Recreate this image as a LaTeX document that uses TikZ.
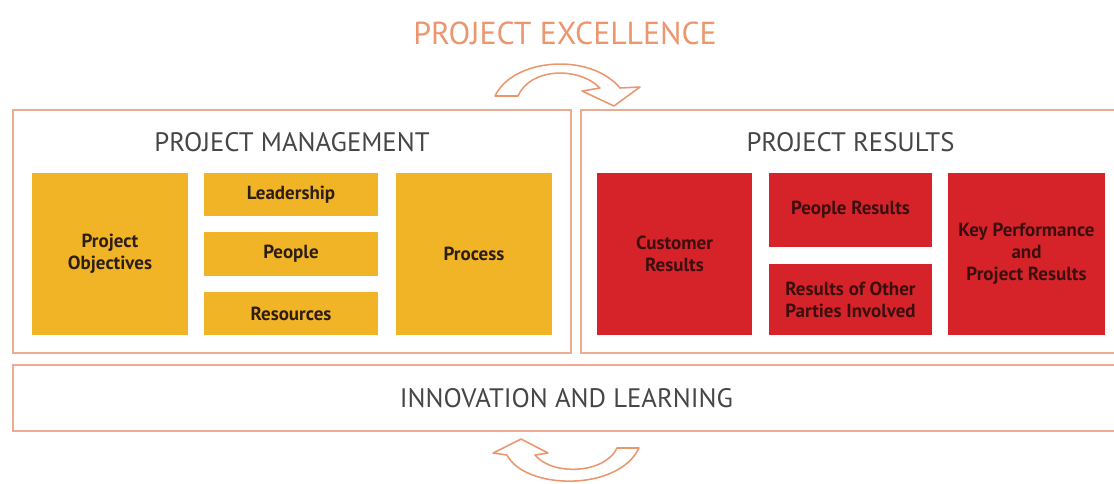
\documentclass[tikz,border=0pt]{standalone}
\usepackage{fontspec}
\setmainfont{PT Sans}
\usetikzlibrary{positioning}

\definecolor{pmyellow}{RGB}{241,180,38}
\definecolor{prred}{RGB}{214,35,42}
\definecolor{framec}{RGB}{236,172,145}
\definecolor{titlegray}{RGB}{70,70,70}
\definecolor{excorange}{RGB}{236,150,110}
\definecolor{boxtext}{RGB}{45,30,20}
\definecolor{redtext}{RGB}{60,15,15}

\tikzset{
    frame/.style={shape=rectangle, draw=framec, line width=1.4pt, inner sep=0pt},
    ybox/.style={shape=rectangle, fill=pmyellow, text=boxtext, align=center, inner sep=0pt,
        font=\fontsize{13.5}{15.5}\selectfont\bfseries},
    rbox/.style={shape=rectangle, fill=prred, text=redtext, align=center, inner sep=0pt,
        font=\fontsize{13.5}{15.5}\selectfont\bfseries},
    heading/.style={text=titlegray, font=\fontsize{19}{22}\selectfont},
    turn/.style={draw=excorange, fill=white, line width=1.1pt, line join=round}
}

\begin{document}
\begin{tikzpicture}[x=0.025cm, y=-0.025cm]
    \useasboundingbox (0,0) rectangle (1114,483);
    \node[frame, minimum width=13.95cm, minimum height=6.075cm] (PM) at (292, 231.5) {};
        \node[heading] at ([yshift=-0.825cm]PM.north) {PROJECT MANAGEMENT};
    \node[frame, minimum width=13.475cm, minimum height=6.075cm] (PR) at (850.5, 231.5) {};
        \node[heading] at ([yshift=-0.825cm]PR.north) {PROJECT RESULTS};
    \node[frame, minimum width=27.675cm, minimum height=1.65cm] (IL) at (566.5, 398) {};
        \node[heading] at (IL.center) {INNOVATION AND LEARNING};
    \node[text=excorange, font=\fontsize{22.6}{26}\selectfont] (PE) at (565, 33) {PROJECT EXCELLENCE};

    \node[ybox, minimum width=3.9cm, minimum height=4.05cm] (A1) at (110, 254) {Project\\Objectives};
    \node[ybox, minimum width=4.35cm, minimum height=1.075cm] (A2) at (291, 194.5) {Leadership};
    \node[ybox, minimum width=4.35cm, minimum height=1.1cm] (A3) at (291, 254) {People};
    \node[ybox, minimum width=4.35cm, minimum height=1.075cm] (A4) at (291, 313.5) {Resources};
    \node[ybox, minimum width=3.9cm, minimum height=4.05cm] (A5) at (474, 254) {Process};

    \node[rbox, minimum width=3.875cm, minimum height=4.05cm] (B1) at (674.5, 254) {Customer\\Results};
    \node[rbox, minimum width=4.075cm, minimum height=1.85cm] (B2) at (850.5, 210) {People Results};
    \node[rbox, minimum width=4.075cm, minimum height=1.775cm] (B3) at (850.5, 299.5) {Results of Other\\Parties Involved};
    \node[rbox, minimum width=3.925cm, minimum height=4.05cm] (B4) at (1026.5, 254) {Key Performance\\and\\Project Results};

    \draw[turn] (495,96) .. controls (513,58) and (590,52) .. (620,88)
        -- (640,87) -- (614,106) -- (582,91) -- (600,88)
        .. controls (578,66) and (530,68) .. (518,96) -- cycle;
    \draw[turn] (639,448) .. controls (618,492) and (525,490) .. (507,455)
        -- (493,453) -- (521,439) -- (548,453) -- (535,455)
        .. controls (552,476) and (605,474) .. (617,448) -- cycle;
\end{tikzpicture}
\end{document}
